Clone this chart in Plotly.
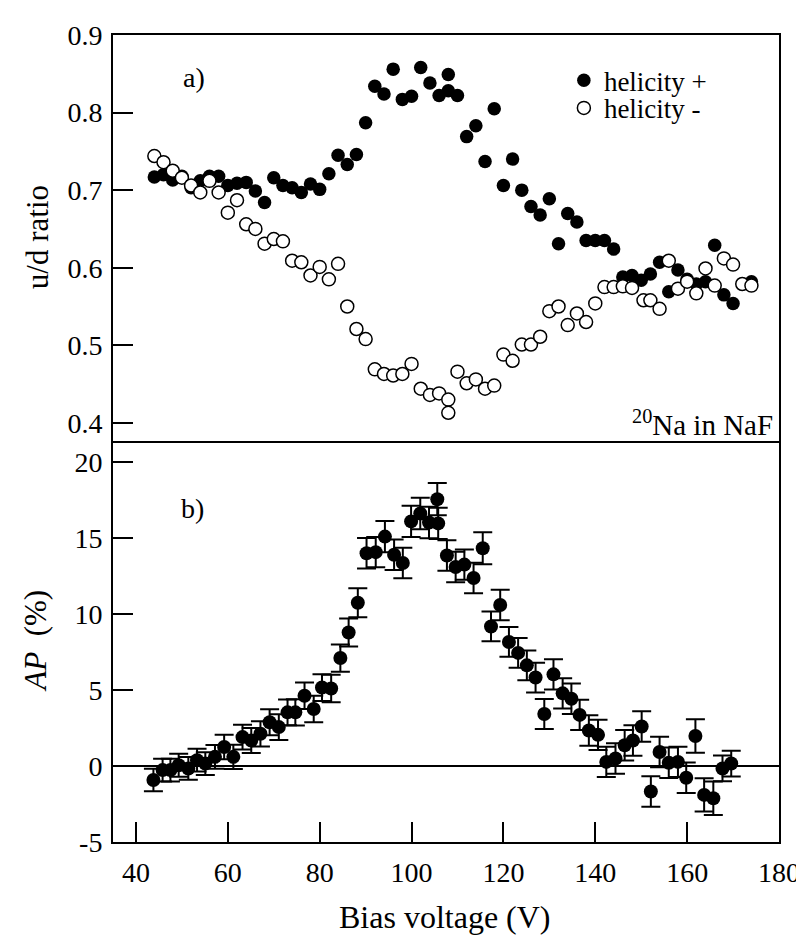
import plotly.graph_objects as go

# ---------------- data ----------------
# panel a) u/d ratio, helicity +
hp_x = [44, 46, 48, 50, 52, 54, 56, 58, 60, 62, 64, 66, 68, 70, 72, 74, 76, 78, 80, 82,
        84, 86, 88, 90, 92, 94, 96, 98, 100, 102, 104, 106, 108, 108, 110, 112, 114, 116, 118, 120,
        122, 124, 126, 128, 130, 132, 134, 136, 138, 140, 142, 144, 146, 148, 150, 152, 154, 156, 158, 160,
        162, 164, 166, 168, 170, 174]
hp_y = [0.717, 0.720, 0.713, 0.718, 0.703, 0.712, 0.718, 0.718, 0.706, 0.709, 0.710, 0.699, 0.684, 0.716, 0.706, 0.703, 0.697, 0.708, 0.701, 0.721,
        0.745, 0.733, 0.746, 0.787, 0.834, 0.824, 0.856, 0.817, 0.821, 0.858, 0.838, 0.822, 0.849, 0.828, 0.822, 0.769, 0.783, 0.737, 0.805, 0.706,
        0.740, 0.700, 0.679, 0.668, 0.689, 0.631, 0.670, 0.659, 0.635, 0.635, 0.635, 0.624, 0.588, 0.590, 0.584, 0.592, 0.607, 0.569, 0.597, 0.585,
        0.579, 0.582, 0.629, 0.565, 0.554, 0.582]

# panel a) u/d ratio, helicity -
hm_x = [44, 46, 48, 50, 52, 54, 56, 58, 60, 62, 64, 66, 68, 70, 72, 74, 76, 78, 80, 82,
        84, 86, 88, 90, 92, 94, 96, 98, 100, 102, 104, 106, 108, 108, 110, 112, 114, 116, 118, 120,
        122, 124, 126, 128, 130, 132, 134, 136, 138, 140, 142, 144, 146, 148, 150.5, 152, 154, 156, 158, 160,
        162, 164, 166, 168, 170, 172, 174]
hm_y = [0.744, 0.736, 0.725, 0.716, 0.706, 0.697, 0.712, 0.697, 0.671, 0.687, 0.656, 0.650, 0.631, 0.637, 0.634, 0.609, 0.607, 0.590, 0.601, 0.585,
        0.605, 0.550, 0.521, 0.508, 0.469, 0.463, 0.461, 0.463, 0.476, 0.444, 0.436, 0.438, 0.430, 0.413, 0.466, 0.451, 0.456, 0.444, 0.448, 0.488,
        0.480, 0.501, 0.501, 0.511, 0.544, 0.550, 0.526, 0.541, 0.530, 0.554, 0.575, 0.575, 0.576, 0.574, 0.558, 0.558, 0.547, 0.609, 0.573, 0.582,
        0.567, 0.599, 0.577, 0.612, 0.604, 0.579, 0.577]

# panel b) AP (%)
ap_x = [43.8, 45.8, 47.5, 49.3, 51.4, 53.3, 55.1, 57.2, 59.2, 61.2, 63.2, 65.1, 67.1, 69.1, 71.1, 73.0, 74.7, 76.7, 78.7, 80.5,
        82.5, 84.5, 86.3, 88.3, 90.2, 92.2, 94.2, 96.2, 98.1, 99.9, 101.9, 103.8, 105.6, 105.8, 107.7, 109.6, 111.5, 113.5, 115.5, 117.3,
        119.3, 121.2, 123.2, 125.1, 127.0, 128.9, 130.9, 132.9, 134.8, 136.6, 138.6, 140.6, 142.4, 144.4, 146.4, 148.2, 150.1, 152.1, 154.0, 156.0,
        158.0, 159.8, 161.8, 163.7, 165.7, 167.7, 169.6]
ap_y = [-0.92, -0.27, -0.27, 0.05, -0.16, 0.38, 0.16, 0.60, 1.25, 0.60, 1.90, 1.68, 2.12, 2.88, 2.56, 3.53, 3.53, 4.62, 3.75, 5.16,
        5.10, 7.10, 8.78, 10.74, 14.00, 14.07, 15.09, 13.90, 13.35, 16.09, 16.61, 16.02, 17.55, 15.96, 13.85, 13.09, 13.25, 12.37, 14.33, 9.18,
        10.59, 8.16, 7.44, 6.62, 5.82, 3.42, 6.03, 4.78, 4.42, 3.36, 2.34, 2.05, 0.27, 0.49, 1.36, 1.68, 2.60, -1.68, 0.92, 0.21,
        0.27, -0.77, 1.97, -1.90, -2.12, -0.16, 0.16]
ap_err = [0.74, 0.75, 0.75, 0.75, 0.75, 0.75, 0.75, 0.78, 0.80, 0.80, 0.82, 0.82, 0.83, 0.85, 0.85, 0.85, 0.86, 0.87, 0.87, 0.88,
          0.90, 0.90, 0.92, 0.95, 1.00, 1.00, 1.02, 1.00, 1.00, 1.03, 1.04, 1.03, 1.06, 1.03, 1.00, 1.00, 1.00, 1.00, 1.05, 0.98,
          1.00, 0.98, 0.98, 0.98, 0.98, 0.98, 1.00, 1.00, 1.00, 1.00, 1.00, 1.00, 1.00, 1.00, 1.00, 1.00, 1.00, 1.00, 1.00, 1.00,
          1.00, 1.00, 1.10, 1.10, 1.10, 0.85, 0.85]

x_ticks = [40, 60, 80, 100, 120, 140, 160, 180]
ya_ticks = [0.4, 0.5, 0.6, 0.7, 0.8, 0.9]
yb_ticks = [-5, 0, 5, 10, 15, 20]
yb_ticktext = ["-5", "0", "5", "10", "15", "20"]

# ---------------- figure ----------------
FONT = "Liberation Serif"
fig = go.Figure()

fig.add_trace(go.Scatter(
    x=hp_x, y=hp_y, mode="markers", name="helicity +",
    xaxis="x2", yaxis="y2", legend="legend",
    marker=dict(symbol="circle", size=13.5, color="black", line=dict(width=0)),
))
fig.add_trace(go.Scatter(
    x=hm_x, y=hm_y, mode="markers", name="helicity -",
    xaxis="x2", yaxis="y2", legend="legend2",
    marker=dict(symbol="circle", size=13, color="white", line=dict(width=1.5, color="black")),
))
fig.add_trace(go.Scatter(
    x=ap_x, y=ap_y, mode="markers", showlegend=False,
    xaxis="x", yaxis="y",
    marker=dict(symbol="circle", size=14, color="black"),
    error_y=dict(type="data", array=ap_err, visible=True, color="black", thickness=2, width=9.5),
))

split = 404 / 814
line_common = dict(showline=True, linecolor="black", linewidth=2, showgrid=False)

fig.update_layout(
    width=804, height=935,
    margin=dict(l=105, r=25, t=20, b=101),
    paper_bgcolor="white", plot_bgcolor="white",
    font=dict(family=FONT, color="black", size=26),
    xaxis=dict(domain=[0, 1], range=[35, 180], anchor="y", mirror=False, zeroline=False,
               tickmode="array", tickvals=x_ticks,
               ticks="inside", ticklen=20, tickwidth=2, tickcolor="black",
               ticklabelstandoff=4,
               tickfont=dict(family=FONT, size=28, color="black"),
               **line_common),
    xaxis2=dict(domain=[0, 1], range=[35, 180], anchor="y2", mirror=True, zeroline=False,
                showticklabels=False, ticks="",
                **line_common),
    yaxis=dict(domain=[0, split], range=[-5, 21.35], anchor="x", mirror=True,
               tickmode="array", tickvals=yb_ticks, ticktext=yb_ticktext,
               ticks="inside", ticklen=20, tickwidth=2, tickcolor="black",
               ticklabelstandoff=3,
               tickfont=dict(family=FONT, size=28, color="black"),
               zeroline=True, zerolinecolor="black", zerolinewidth=1.5,
               **line_common),
    yaxis2=dict(domain=[split, 1], range=[0.376, 0.9], anchor="x2", mirror=True, zeroline=False,
                tickmode="array", tickvals=ya_ticks,
                ticks="inside", ticklen=20, tickwidth=2, tickcolor="black",
                ticklabelstandoff=3,
                tickfont=dict(family=FONT, size=28, color="black"),
                **line_common),
    legend=dict(x=0.677, y=1 - (66 - 20) / 814, xanchor="left", yanchor="middle",
                bgcolor="rgba(0,0,0,0)", borderwidth=0,
                font=dict(family=FONT, size=27, color="black")),
    legend2=dict(x=0.677, y=1 - (94 - 20) / 814, xanchor="left", yanchor="middle",
                 bgcolor="rgba(0,0,0,0)", borderwidth=0,
                 font=dict(family=FONT, size=27, color="black")),
    showlegend=True,
)

fig.add_annotation(text="a)", xref="paper", yref="paper", x=0.122, y=1 - (63 - 20) / 814,
                   showarrow=False, font=dict(family=FONT, size=28), xanchor="center", yanchor="middle")
fig.add_annotation(text="b)", xref="paper", yref="paper", x=0.119, y=1 - (498 - 20) / 814,
                   showarrow=False, font=dict(family=FONT, size=28), xanchor="center", yanchor="middle")
fig.add_annotation(text="<sup>20</sup>Na in NaF", xref="paper", yref="paper", x=0.994, y=1 - (411 - 20) / 814,
                   showarrow=False, font=dict(family=FONT, size=29), xanchor="right", yanchor="middle")
fig.add_annotation(text="u/d ratio", xref="paper", yref="paper", x=(28 - 105) / 674, y=1 - (224 - 20) / 814,
                   showarrow=False, textangle=-90, font=dict(family=FONT, size=31),
                   xanchor="center", yanchor="middle")
fig.add_annotation(text="<i>AP</i>\u00a0 (%)", xref="paper", yref="paper", x=(27 - 105) / 674, y=1 - (631 - 20) / 814,
                   showarrow=False, textangle=-90, font=dict(family=FONT, size=31),
                   xanchor="center", yanchor="middle")
fig.add_annotation(text="Bias voltage (V)", xref="paper", yref="paper", x=(441 - 105) / 674, y=1 - (910 - 20) / 814,
                   showarrow=False, font=dict(family=FONT, size=32), xanchor="center", yanchor="middle")

fig.write_html("out.html")
